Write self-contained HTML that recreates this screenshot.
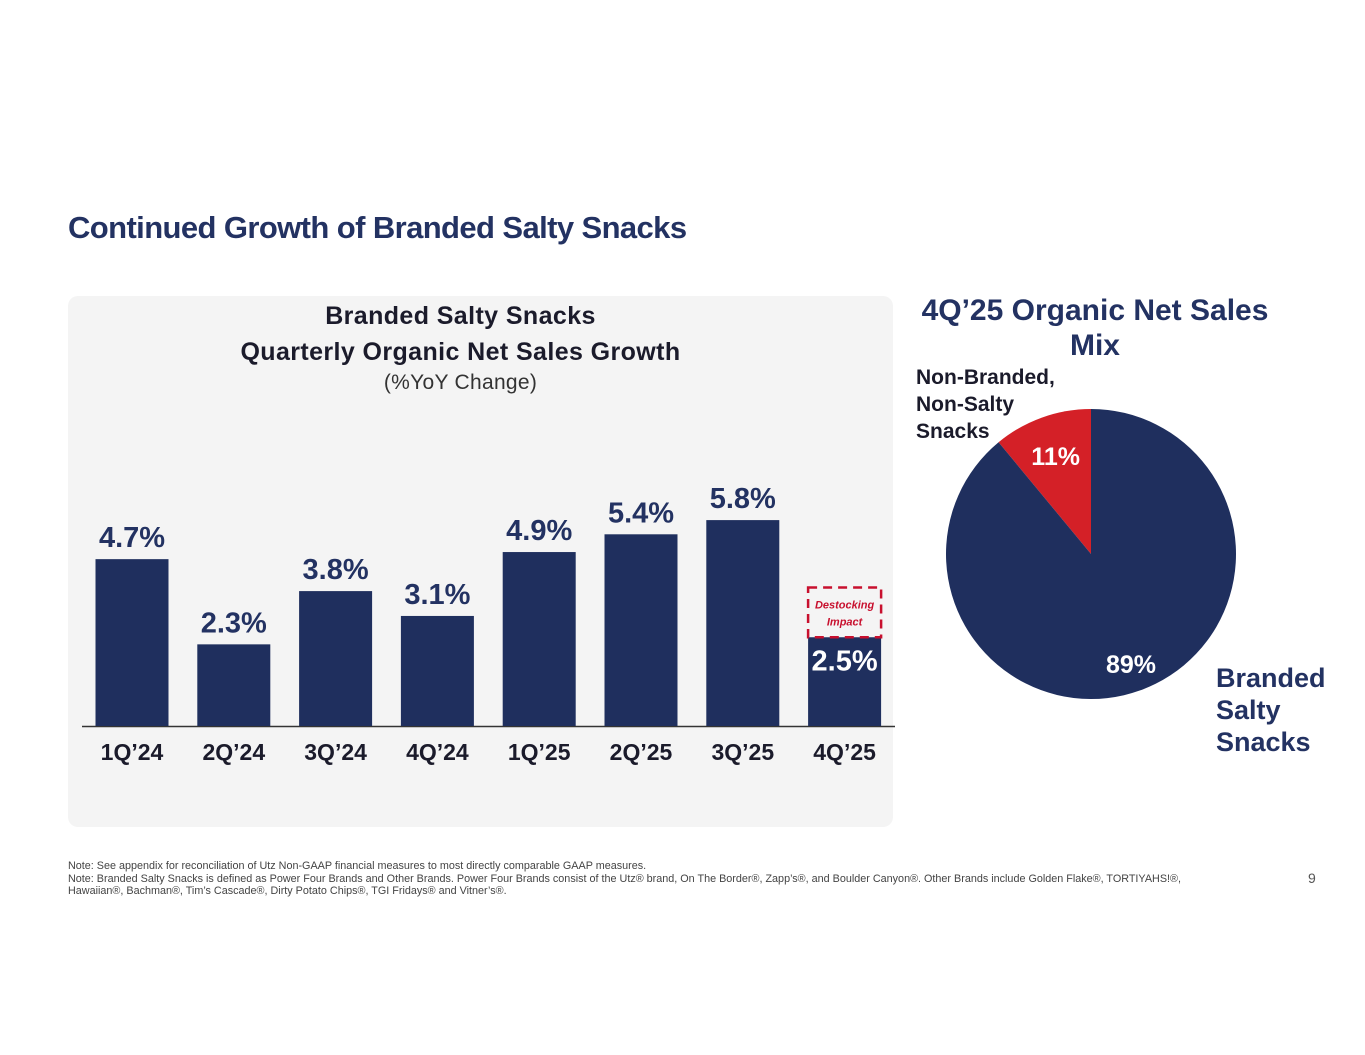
<!DOCTYPE html>
<html><head><meta charset="utf-8"><style>
body{margin:0;width:1365px;height:1055px;background:#fff;font-family:"Liberation Sans",sans-serif;position:relative;overflow:hidden;color:#1f2f5e}
.abs{position:absolute}
</style></head><body>
<div class="abs" style="left:68px;top:210px;font-size:31px;font-weight:bold;letter-spacing:-0.6px;color:#233262">Continued Growth of Branded Salty Snacks</div>
<div class="abs" style="left:68px;top:296px;width:825px;height:531px;background:#f4f4f4;border-radius:10px"></div>
<div class="abs" style="left:68px;top:298px;width:785px;text-align:center;font-size:25px;letter-spacing:0.4px;font-weight:bold;line-height:36px;color:#1b1b2b">Branded Salty Snacks<br>Quarterly Organic Net Sales Growth</div>
<div class="abs" style="left:68px;top:371px;width:785px;text-align:center;font-size:21px;letter-spacing:0.3px;color:#333">(%YoY Change)</div>
<svg class="abs" id="bars" style="left:0;top:0" width="1365" height="1055"></svg>
<svg class="abs" id="pie" style="left:0;top:0" width="1365" height="1055"></svg>
<div class="abs" style="left:900px;top:293px;width:390px;text-align:center;font-size:30px;font-weight:bold;line-height:35px;color:#233262">4Q’25 Organic Net Sales<br>Mix</div>
<div class="abs" style="left:916px;top:364px;font-size:21px;font-weight:bold;line-height:27px;color:#1b1b2b">Non-Branded,<br>Non-Salty<br>Snacks</div>
<div class="abs" style="left:1216px;top:662px;font-size:27px;font-weight:bold;line-height:32px;color:#233262">Branded<br>Salty<br>Snacks</div>
<div class="abs" style="left:68px;top:860px;width:1160px;font-size:10.8px;line-height:12.5px;color:#444">Note: See appendix for reconciliation of Utz Non-GAAP financial measures to most directly comparable GAAP measures.<br>Note: Branded Salty Snacks is defined as Power Four Brands and Other Brands. Power Four Brands consist of the Utz® brand, On The Border®, Zapp’s®, and Boulder Canyon®. Other Brands include Golden Flake®, TORTIYAHS!®, Hawaiian®, Bachman®, Tim’s Cascade®, Dirty Potato Chips®, TGI Fridays® and Vitner’s®.</div>
<div class="abs" style="left:1308px;top:870px;font-size:14px;color:#555">9</div>
<script>
const categories=["1Q’24","2Q’24","3Q’24","4Q’24","1Q’25","2Q’25","3Q’25","4Q’25"];
const growth=[4.7,2.3,3.8,3.1,4.9,5.4,5.8,2.5];
const labels=["4.7%","2.3%","3.8%","3.1%","4.9%","5.4%","5.8%","2.5%"];
const destocking=[0,0,0,0,0,0,0,1.4];
const pieLabels=["Branded Salty Snacks","Non-Branded, Non-Salty Snacks"];
const pieValues=[89,11];
const NS="http://www.w3.org/2000/svg";
function mk(p,t,a){const e=document.createElementNS(NS,t);for(const k in a)e.setAttribute(k,a[k]);p.appendChild(e);return e;}
const svg=document.getElementById('bars');
const base=726,ppu=35.5,x0=132,step=101.8,bw=73;
const y=v=>base-v*ppu, xc=i=>x0+i*step;
mk(svg,'line',{x1:82,x2:895,y1:base+0.5,y2:base+0.5,stroke:'#333','stroke-width':1.5});
categories.forEach((c,i)=>{
  const r=mk(svg,'rect',{x:xc(i)-bw/2,y:y(growth[i]),width:bw,height:growth[i]*ppu,fill:'#1f2f5e'});
  
  
  const inside=destocking[i]>0;
  const t=mk(svg,'text',{x:xc(i),y:inside?y(growth[i])+33:y(growth[i])-12,'text-anchor':'middle','font-size':29,'font-weight':'bold',fill:inside?'#fff':'#233262','font-family':'Liberation Sans'});
  t.textContent=labels[i];
  
  
  if(inside){
    const d=mk(svg,'rect',{x:xc(i)-bw/2,y:y(growth[i]+destocking[i]),width:bw,height:destocking[i]*ppu,fill:'none',stroke:'#c8102e','stroke-width':2.5,'stroke-dasharray':'9,6'});
    
    
    const yy=y(growth[i]+destocking[i]/2);
    [["Destocking",-4],["Impact",13]].forEach(([s,o])=>{
      const tt=mk(svg,'text',{x:xc(i),y:yy+o,'text-anchor':'middle','font-size':11,'font-style':'italic','font-weight':'bold',fill:'#c8102e','font-family':'Liberation Sans'});
      tt.textContent=s;
      
      
    });
  }
  const xl=mk(svg,'text',{x:xc(i),y:760,'text-anchor':'middle','font-size':23,'font-weight':'bold',fill:'#1b1b2b','font-family':'Liberation Sans'});
  xl.textContent=c;
  
  
});
const pie=document.getElementById('pie');
const cx=1091,cy=554,R=145,colors=['#1f2f5e','#d42027'];
const tot=pieValues.reduce((a,b)=>a+b,0);
let a0=0;
const order=[1,0];
order.forEach(k=>{
  const a1=a0+pieValues[k]/tot*2*Math.PI;
  const p=(a)=>[cx-R*Math.sin(a),cy-R*Math.cos(a)];
  const [sx,sy]=p(a0),[ex,ey]=p(a1);
  const large=(a1-a0)>Math.PI?1:0;
  const s=mk(pie,'path',{d:`M${cx},${cy}L${sx},${sy}A${R},${R} 0 ${large} 0 ${ex},${ey}Z`,fill:colors[k]});
  
  
  const m=(a0+a1)/2, rr=k==1?R*0.72:R*0.75;
  let lx=cx-rr*Math.sin(m), ly=cy-rr*Math.cos(m);
  if(k==0){lx=cx+40;ly=cy+110;}
  const t=mk(pie,'text',{x:lx,y:ly+9,'text-anchor':'middle','font-size':25,'font-weight':'bold',fill:'#fff','font-family':'Liberation Sans'});
  t.textContent=pieValues[k]+'%';
  
  
  a0=a1;
});
</script>
</body></html>
